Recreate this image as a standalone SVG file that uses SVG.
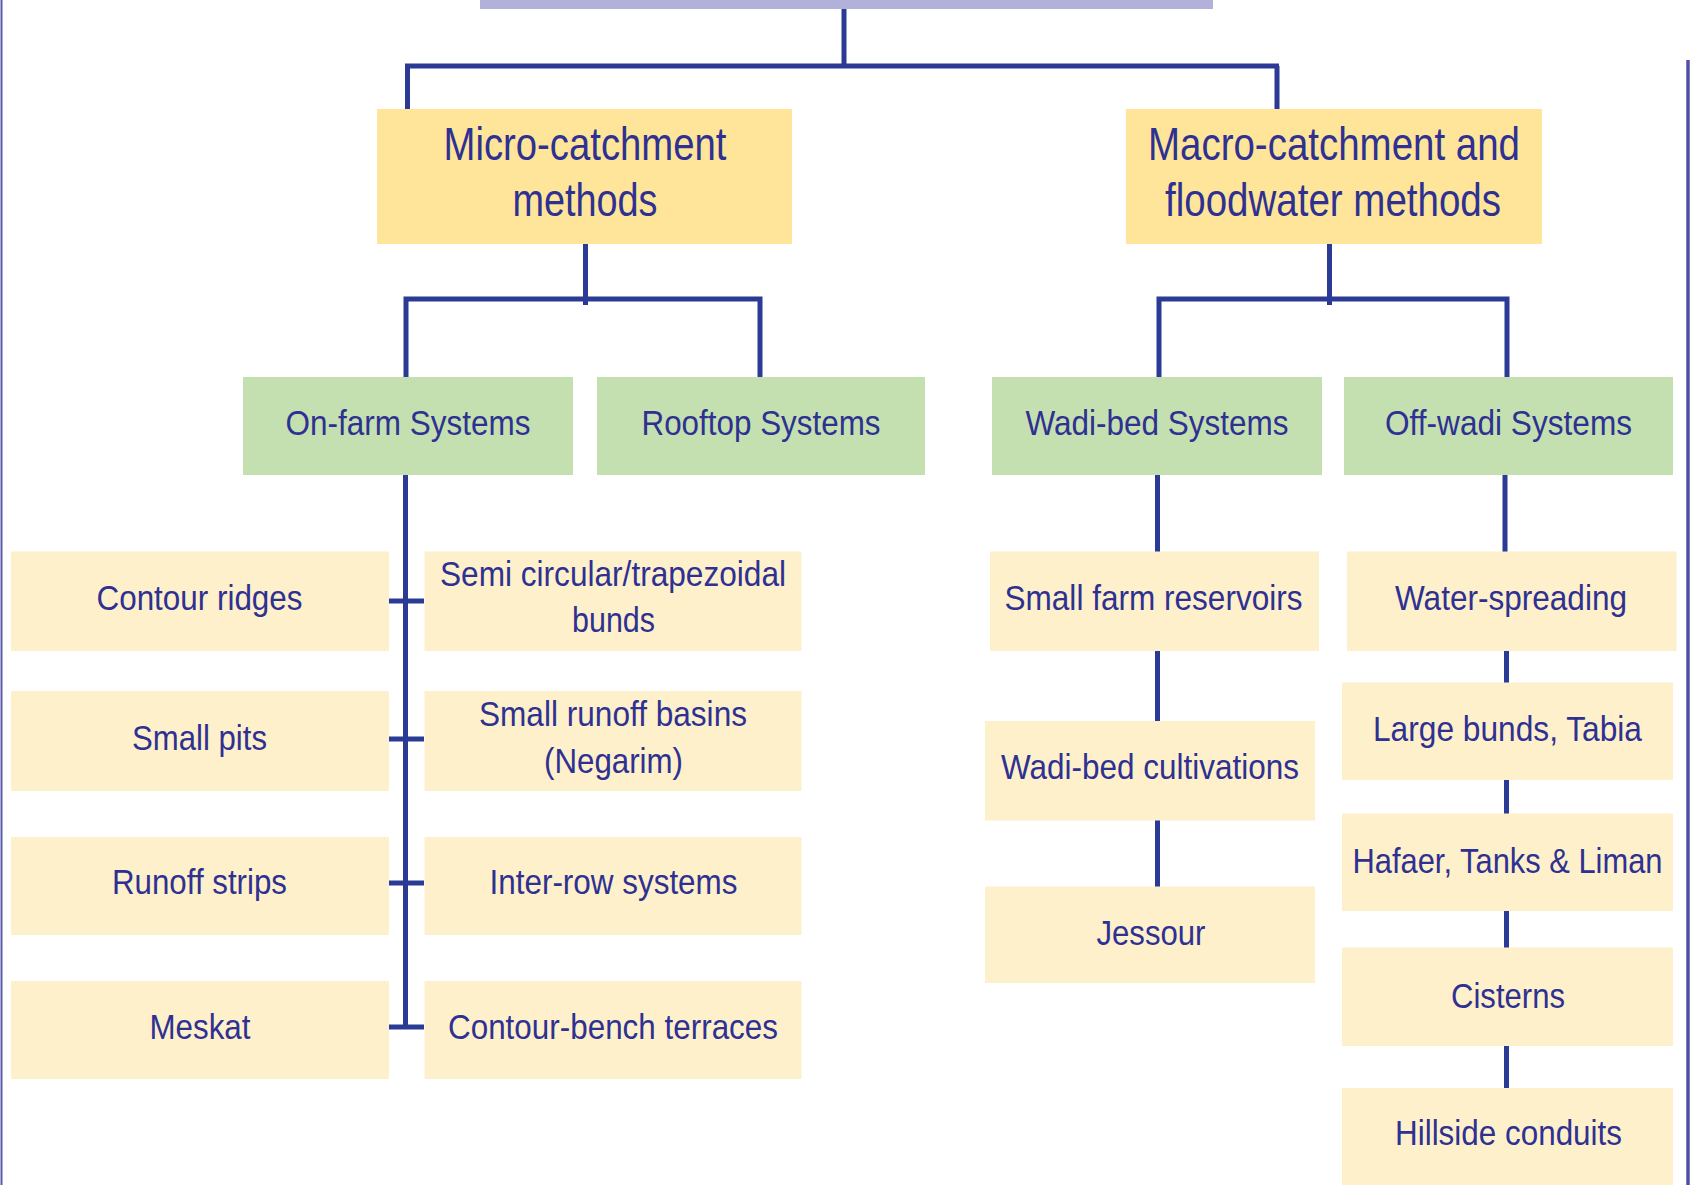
<svg xmlns="http://www.w3.org/2000/svg" width="1692" height="1185" viewBox="0 0 1692 1185">
<style>
text{font-family:"Liberation Sans",Arial,sans-serif;fill:#2e3192;text-anchor:middle}
.t1{font-size:46px}
.t2{font-size:35px}
.top{fill:#fee599}
.grn{fill:#c5e0b0}
.leaf{fill:#fef0cb}
.con{stroke:#2b3a95;stroke-width:5;fill:none}
</style>
<rect width="1692" height="1185" fill="#ffffff"/>
<line x1="1.5" y1="0" x2="1.5" y2="1185" stroke="#5a5aa8" stroke-width="2"/>
<line x1="1688" y1="60" x2="1688" y2="1185" stroke="#5050a5" stroke-width="3.5"/>
<rect id="title-bar" x="480" y="0" width="733" height="9" fill="#b1b1d9"/>
<g id="connectors" class="con">
<path d="M844 9V66M405 66H1279M407.5 66V109M1277 66V109"/>
<path d="M585.5 244V305M403.5 299H762.5M406 299V377M760 299V377"/>
<path d="M1329.5 244V305M1156.5 299H1509.5M1159 299V377M1507 299V377"/>
<path d="M405.5 475V1029.5M386 601H424M386 739H424M386 883H424M386 1027H424"/>
<path d="M1157.5 475V552M1157.5 648V722M1157.5 819V888"/>
<path d="M1505 475V552M1506.5 648V683M1506.5 780V814M1506.5 911V948M1506.5 1046V1088"/>
</g>
<g id="micro"><rect class="top" x="377" y="109" width="415" height="135"/><text class="t1" x="585" y="160" textLength="283" lengthAdjust="spacingAndGlyphs">Micro-catchment</text><text class="t1" x="585" y="216" textLength="145" lengthAdjust="spacingAndGlyphs">methods</text></g>
<g id="macro"><rect class="top" x="1126" y="109" width="416" height="135"/><text class="t1" x="1334" y="160" textLength="372" lengthAdjust="spacingAndGlyphs">Macro-catchment and</text><text class="t1" x="1333" y="216" textLength="336" lengthAdjust="spacingAndGlyphs">floodwater methods</text></g>
<g id="onfarm"><rect class="grn" x="243" y="377" width="330" height="98"/><text class="t2" x="408" y="435" textLength="245" lengthAdjust="spacingAndGlyphs">On-farm Systems</text></g>
<g id="rooftop"><rect class="grn" x="597" y="377" width="328" height="98"/><text class="t2" x="761" y="435" textLength="239" lengthAdjust="spacingAndGlyphs">Rooftop Systems</text></g>
<g id="wadibed"><rect class="grn" x="992" y="377" width="330" height="98"/><text class="t2" x="1157" y="435" textLength="263" lengthAdjust="spacingAndGlyphs">Wadi-bed Systems</text></g>
<g id="offwadi"><rect class="grn" x="1344" y="377" width="329" height="98"/><text class="t2" x="1508.5" y="435" textLength="247" lengthAdjust="spacingAndGlyphs">Off-wadi Systems</text></g>
<g id="contour-ridges"><rect class="leaf" x="11" y="551.5" width="378" height="99.5"/><text class="t2" x="199.5" y="610" textLength="206" lengthAdjust="spacingAndGlyphs">Contour ridges</text></g>
<g id="small-pits"><rect class="leaf" x="11" y="691" width="378" height="100"/><text class="t2" x="199.5" y="750" textLength="135" lengthAdjust="spacingAndGlyphs">Small pits</text></g>
<g id="runoff-strips"><rect class="leaf" x="11" y="837" width="378" height="98"/><text class="t2" x="199.5" y="894" textLength="175" lengthAdjust="spacingAndGlyphs">Runoff strips</text></g>
<g id="meskat"><rect class="leaf" x="11" y="981" width="378" height="98"/><text class="t2" x="200" y="1039" textLength="101" lengthAdjust="spacingAndGlyphs">Meskat</text></g>
<g id="semi-circular"><rect class="leaf" x="424.5" y="551.5" width="377" height="99.5"/><text class="t2" x="613" y="586" textLength="346" lengthAdjust="spacingAndGlyphs">Semi circular/trapezoidal</text><text class="t2" x="613.5" y="632" textLength="83" lengthAdjust="spacingAndGlyphs">bunds</text></g>
<g id="small-runoff-basins"><rect class="leaf" x="424.5" y="691" width="377" height="100"/><text class="t2" x="613" y="726" textLength="268" lengthAdjust="spacingAndGlyphs">Small runoff basins</text><text class="t2" x="613.5" y="773" textLength="139" lengthAdjust="spacingAndGlyphs">(Negarim)</text></g>
<g id="inter-row"><rect class="leaf" x="424.5" y="837" width="377" height="98"/><text class="t2" x="613.5" y="894" textLength="248" lengthAdjust="spacingAndGlyphs">Inter-row systems</text></g>
<g id="contour-bench"><rect class="leaf" x="424.5" y="981" width="377" height="98"/><text class="t2" x="613" y="1039" textLength="330" lengthAdjust="spacingAndGlyphs">Contour-bench terraces</text></g>
<g id="small-farm-reservoirs"><rect class="leaf" x="990" y="551.5" width="329" height="99.5"/><text class="t2" x="1153.5" y="610" textLength="298" lengthAdjust="spacingAndGlyphs">Small farm reservoirs</text></g>
<g id="wadi-bed-cultivations"><rect class="leaf" x="985" y="721" width="330" height="99.5"/><text class="t2" x="1150" y="778.5" textLength="298" lengthAdjust="spacingAndGlyphs">Wadi-bed cultivations</text></g>
<g id="jessour"><rect class="leaf" x="985" y="886.5" width="330" height="96.5"/><text class="t2" x="1151" y="945" textLength="109" lengthAdjust="spacingAndGlyphs">Jessour</text></g>
<g id="water-spreading"><rect class="leaf" x="1347" y="551.5" width="329.5" height="99.5"/><text class="t2" x="1511" y="610" textLength="232" lengthAdjust="spacingAndGlyphs">Water-spreading</text></g>
<g id="large-bunds"><rect class="leaf" x="1342" y="682.5" width="331" height="97.5"/><text class="t2" x="1507.5" y="741" textLength="269" lengthAdjust="spacingAndGlyphs">Large bunds, Tabia</text></g>
<g id="hafaer"><rect class="leaf" x="1342" y="813.5" width="331" height="97.5"/><text class="t2" x="1507.5" y="872.5" textLength="310" lengthAdjust="spacingAndGlyphs">Hafaer, Tanks &amp; Liman</text></g>
<g id="cisterns"><rect class="leaf" x="1342" y="947.5" width="331" height="98.5"/><text class="t2" x="1508" y="1007.5" textLength="114" lengthAdjust="spacingAndGlyphs">Cisterns</text></g>
<g id="hillside"><rect class="leaf" x="1342" y="1088" width="331" height="97"/><text class="t2" x="1508.5" y="1145" textLength="227" lengthAdjust="spacingAndGlyphs">Hillside conduits</text></g>
</svg>
